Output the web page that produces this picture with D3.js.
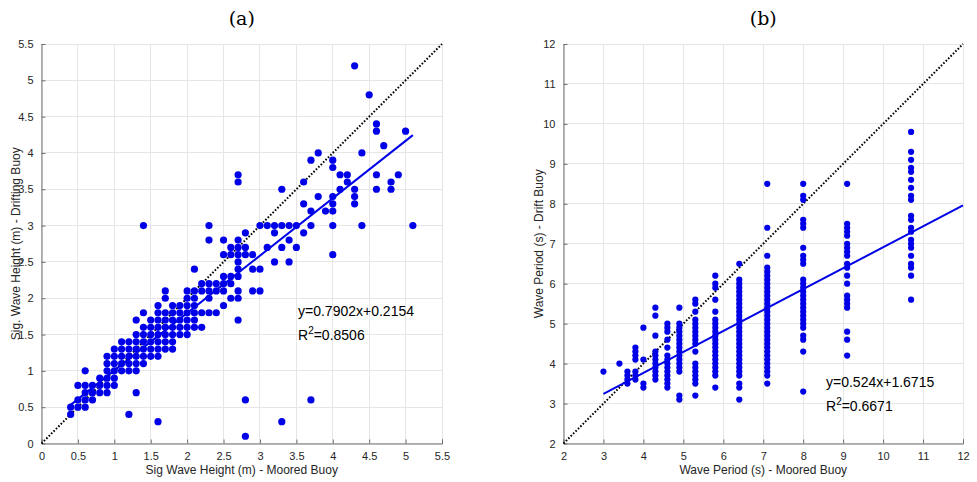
<!DOCTYPE html>
<html>
<head>
<meta charset="utf-8">
<script src="https://cdn.jsdelivr.net/npm/d3@7/dist/d3.min.js"></script>
<style>
html,body{margin:0;padding:0;background:#fff;}
svg{display:block;}
</style>
</head>
<body>
<svg id="chart" width="977" height="482"></svg>
<script>
// ---------- Panel (a): significant wave height ----------
const heightTicks = [0, 0.5, 1, 1.5, 2, 2.5, 3, 3.5, 4, 4.5, 5, 5.5];
// drifting-buoy values (rows) and the moored-buoy values found on each row
const driftHeightLevels = [0.1, 0.3, 0.4, 0.5, 0.6, 0.7, 0.8, 0.9, 1.0, 1.1, 1.2, 1.3, 1.4, 1.5, 1.6, 1.7, 1.8, 1.9, 2.0, 2.1, 2.2, 2.3, 2.4, 2.5, 2.6, 2.7, 2.8, 2.9, 3.0, 3.2, 3.3, 3.4, 3.5, 3.6, 3.7, 3.8, 3.9, 4.0, 4.1, 4.3, 4.4, 4.8, 5.2];
const mooredHeightByLevel = [
  [2.8],
  [1.6, 3.3],
  [0.4, 1.2],
  [0.4, 0.5, 0.6],
  [0.5, 0.6, 0.7, 2.8, 3.7],
  [0.6, 0.7, 0.8, 0.9, 1.3],
  [0.5, 0.6, 0.7, 0.8, 0.9, 1.0],
  [0.8, 0.9, 1.0],
  [0.6, 0.9, 1.0, 1.1, 1.2, 1.3],
  [0.9, 1.0, 1.1, 1.2, 1.3, 1.4],
  [0.9, 1.0, 1.1, 1.2, 1.3, 1.4, 1.5, 1.6],
  [1.0, 1.1, 1.2, 1.3, 1.4, 1.5, 1.6, 1.7, 1.8],
  [1.1, 1.2, 1.3, 1.4, 1.5, 1.6, 1.7, 1.8],
  [1.3, 1.4, 1.5, 1.6, 1.7, 1.8, 1.9, 2.0],
  [1.4, 1.5, 1.6, 1.7, 1.8, 1.9, 2.0, 2.1, 2.2],
  [1.3, 1.5, 1.6, 1.7, 1.8, 1.9, 2.0, 2.1, 2.7],
  [1.4, 1.6, 1.7, 1.8, 1.9, 2.0, 2.1, 2.2, 2.3, 2.4],
  [1.6, 1.8, 1.9, 2.0, 2.1, 2.5],
  [1.7, 2.0, 2.1, 2.3, 2.6, 2.7],
  [1.7, 2.0, 2.1, 2.2, 2.3, 2.4, 2.5, 2.7, 2.9, 3.0],
  [2.2, 2.3, 2.4, 2.5, 2.6],
  [2.5, 2.6, 2.7],
  [2.1, 2.7, 2.9, 3.0],
  [2.7, 3.2, 3.4],
  [2.5, 2.6, 2.7, 2.8, 2.9, 4.0],
  [2.6, 2.7, 2.8, 3.1, 3.3, 3.5],
  [2.3, 2.5, 2.7, 3.4],
  [2.8, 3.2, 3.6],
  [1.4, 2.3, 3.0, 3.1, 3.2, 3.3, 3.4, 3.5, 3.7, 4.0, 4.4, 5.1],
  [3.7, 3.9, 4.0],
  [3.6, 4.0, 4.3],
  [3.8, 4.0, 4.3],
  [3.3, 4.1, 4.3, 4.6, 4.8],
  [2.7, 3.6, 4.2, 4.8],
  [2.7, 4.1, 4.2, 4.6, 4.9],
  [4.0],
  [3.7, 4.0],
  [3.8, 4.4],
  [4.7],
  [4.6, 5.0],
  [4.6],
  [4.5],
  [4.3]
];
const fitA = {slope: 0.7902, intercept: 0.2154, xFrom: 0.4, xTo: 5.1};
const labelsA = {title: "(a)", x: "Sig Wave Height (m) - Moored Buoy", y: "Sig. Wave Height (m) - Drifting Buoy", eq: "y=0.7902x+0.2154", r2: "=0.8506"};

// ---------- Panel (b): wave period ----------
const periodTicks = [2, 3, 4, 5, 6, 7, 8, 9, 10, 11, 12];
const mooredPeriods = [3.0, 3.4, 3.6, 3.8, 4.0, 4.3, 4.6, 4.9, 5.3, 5.8, 6.4, 7.1, 8.0, 9.1, 10.7];
const driftPeriodsByColumn = [
  [3.8],
  [4.0],
  [3.8, 3.7, 3.6, 3.5],
  [4.4, 4.3, 4.2, 4.1, 3.8, 3.7, 3.6],
  [4.9, 4.1, 3.5, 3.4],
  [5.4, 5.2, 4.7, 4.3, 4.2, 4.1, 4.0, 3.9, 3.8, 3.7, 3.6],
  [5.0, 4.9, 4.8, 4.6, 4.4, 4.2, 4.1, 4.0, 3.9, 3.8, 3.7, 3.6, 3.5, 3.4],
  [5.4, 5.0, 4.9, 4.8, 4.7, 4.6, 4.5, 4.4, 4.3, 4.2, 4.1, 4.0, 3.9, 3.8, 3.2, 3.1],
  [5.6, 5.5, 5.3, 5.1, 5.0, 4.9, 4.8, 4.7, 4.6, 4.5, 4.3, 4.0, 3.9, 3.8, 3.7, 3.6, 3.5, 3.2],
  [6.2, 6.0, 5.9, 5.6, 5.3, 5.1, 5.0, 4.9, 4.8, 4.7, 4.6, 4.5, 4.4, 4.3, 4.2, 4.1, 4.0, 3.9, 3.8, 3.7, 3.4],
  [6.5, 6.1, 6.0, 5.9, 5.8, 5.7, 5.6, 5.5, 5.4, 5.3, 5.2, 5.1, 5.0, 4.9, 4.8, 4.7, 4.6, 4.5, 4.4, 4.3, 4.2, 4.1, 4.0, 3.9, 3.8, 3.7, 3.5, 3.4, 3.1],
  [8.5, 7.4, 6.7, 6.4, 6.3, 6.2, 6.1, 6.0, 5.9, 5.8, 5.7, 5.6, 5.5, 5.4, 5.3, 5.2, 5.1, 5.0, 4.9, 4.8, 4.7, 4.6, 4.5, 4.4, 4.3, 4.2, 4.1, 4.0, 3.9, 3.8, 3.7, 3.5],
  [8.5, 8.2, 8.1, 7.6, 7.5, 7.4, 6.9, 6.7, 6.6, 6.5, 6.1, 6.0, 5.9, 5.8, 5.7, 5.6, 5.5, 5.4, 5.3, 5.2, 5.1, 5.0, 4.9, 4.7, 4.6, 4.3, 3.3],
  [8.5, 7.5, 7.4, 7.3, 7.2, 7.0, 6.9, 6.8, 6.7, 6.5, 6.4, 6.2, 6.0, 5.7, 5.6, 5.5, 5.4, 4.8, 4.6, 4.2],
  [9.8, 9.3, 9.1, 8.9, 8.8, 8.6, 8.4, 8.2, 8.1, 7.7, 7.6, 7.4, 7.3, 7.1, 7.0, 6.9, 6.7, 6.5, 6.4, 6.2, 5.6]
];
const fitB = {slope: 0.524, intercept: 1.6715, xFrom: 3.0, xTo: 12};
const labelsB = {title: "(b)", x: "Wave Period (s) - Moored Buoy", y: "Wave Period (s) - Drift Buoy", eq: "y=0.524x+1.6715", r2: "=0.6671"};

// ---------- drawing ----------
const svg = d3.select("#chart");
const BLUE = "#0000e8";
const SANS = "'Liberation Sans', Arial, Helvetica, sans-serif";

function panel(cfg) {
  const x = d3.scaleLinear().domain(cfg.domain).range([cfg.left, cfg.right]);
  const y = d3.scaleLinear().domain(cfg.domain).range([cfg.bottom, cfg.top]);
  const g = svg.append("g");

  // grid
  g.append("g").selectAll("line.gx").data(cfg.ticks).join("line")
    .attr("x1", d => x(d)).attr("x2", d => x(d))
    .attr("y1", cfg.bottom).attr("y2", cfg.top)
    .attr("stroke", "#e6e6e6").attr("stroke-width", 1).attr("shape-rendering", "crispEdges");
  g.append("g").selectAll("line.gy").data(cfg.ticks).join("line")
    .attr("y1", d => y(d)).attr("y2", d => y(d))
    .attr("x1", cfg.left).attr("x2", cfg.right)
    .attr("stroke", "#e6e6e6").attr("stroke-width", 1).attr("shape-rendering", "crispEdges");

  // axes (ticks inward)
  const xAxis = d3.axisBottom(x).tickValues(cfg.ticks).tickSize(-4).tickPadding(8).tickFormat(d3.format("~g"));
  const yAxis = d3.axisLeft(y).tickValues(cfg.ticks).tickSize(-4).tickPadding(8).tickFormat(d3.format("~g"));
  const gx = g.append("g").attr("transform", `translate(0,${cfg.bottom})`).call(xAxis);
  const gy = g.append("g").attr("transform", `translate(${cfg.left},0)`).call(yAxis);
  [gx, gy].forEach(a => {
    a.select(".domain").attr("stroke", "#6e6e6e");
    a.selectAll(".tick line").attr("stroke", "#6e6e6e");
    a.selectAll(".tick text").attr("fill", "#262626").style("font-family", SANS).style("font-size", "11px");
  });
  gx.selectAll(".tick text").attr("dy", "0.75em");
  gy.select(".domain").attr("d", `M0.5,${cfg.bottom}V${cfg.top}`);

  // 1:1 dotted line
  g.append("line")
    .attr("x1", x(cfg.domain[0])).attr("y1", y(cfg.domain[0]))
    .attr("x2", x(cfg.domain[1])).attr("y2", y(cfg.domain[1]))
    .attr("stroke", "#000").attr("stroke-width", 2).attr("stroke-dasharray", "1.6,1.8");

  // points
  g.append("g").selectAll("circle").data(cfg.points).join("circle")
    .attr("cx", d => x(d[0])).attr("cy", d => y(d[1])).attr("r", cfg.r)
    .attr("fill", BLUE);

  // regression line
  const f = cfg.fit;
  g.append("line")
    .attr("x1", x(f.xFrom)).attr("y1", y(f.slope * f.xFrom + f.intercept))
    .attr("x2", x(f.xTo)).attr("y2", y(f.slope * f.xTo + f.intercept))
    .attr("stroke", BLUE).attr("stroke-width", 2);

  // equation text
  g.append("text").attr("x", cfg.eqX).attr("y", cfg.eqY)
    .style("font-family", SANS).style("font-size", "14px").attr("fill", "#000").text(cfg.labels.eq);
  const r = g.append("text").attr("x", cfg.eqX).attr("y", cfg.eqY + 24)
    .style("font-family", SANS).style("font-size", "14px").attr("fill", "#000");
  r.append("tspan").text("R");
  r.append("tspan").attr("dy", -6).style("font-size", "10px").text("2");
  r.append("tspan").attr("dy", 6).text(cfg.labels.r2);

  // labels
  g.append("text").attr("x", (cfg.left + cfg.right) / 2).attr("y", 474)
    .attr("text-anchor", "middle").style("font-family", SANS).style("font-size", "12px")
    .attr("fill", "#262626").text(cfg.labels.x);
  g.append("text")
    .attr("transform", `translate(${cfg.yLabelX},${(cfg.top + cfg.bottom) / 2}) rotate(-90)`)
    .attr("text-anchor", "middle").style("font-family", SANS).style("font-size", "12px")
    .attr("fill", "#262626").text(cfg.labels.y);
  g.append("text").attr("x", (cfg.left + cfg.right) / 2).attr("y", 25)
    .attr("text-anchor", "middle").style("font-family", "'DejaVu Serif', serif").style("font-size", "19px")
    .attr("fill", "#000").text(cfg.labels.title);
}

const pointsA = [];
driftHeightLevels.forEach((lv, i) => mooredHeightByLevel[i].forEach(m => pointsA.push([m, lv])));
const pointsB = [];
mooredPeriods.forEach((m, i) => driftPeriodsByColumn[i].forEach(v => pointsB.push([m, v])));

panel({domain: [0, 5.5], ticks: heightTicks, left: 41.5, right: 442, top: 44, bottom: 443.5,
  points: pointsA, r: 3.6, fit: fitA, labels: labelsA, eqX: 298, eqY: 316, yLabelX: 20});
panel({domain: [2, 12], ticks: periodTicks, left: 563.5, right: 963, top: 44, bottom: 443.5,
  points: pointsB, r: 3.1, fit: fitB, labels: labelsB, eqX: 826, eqY: 387, yLabelX: 543});
</script>
</body>
</html>
